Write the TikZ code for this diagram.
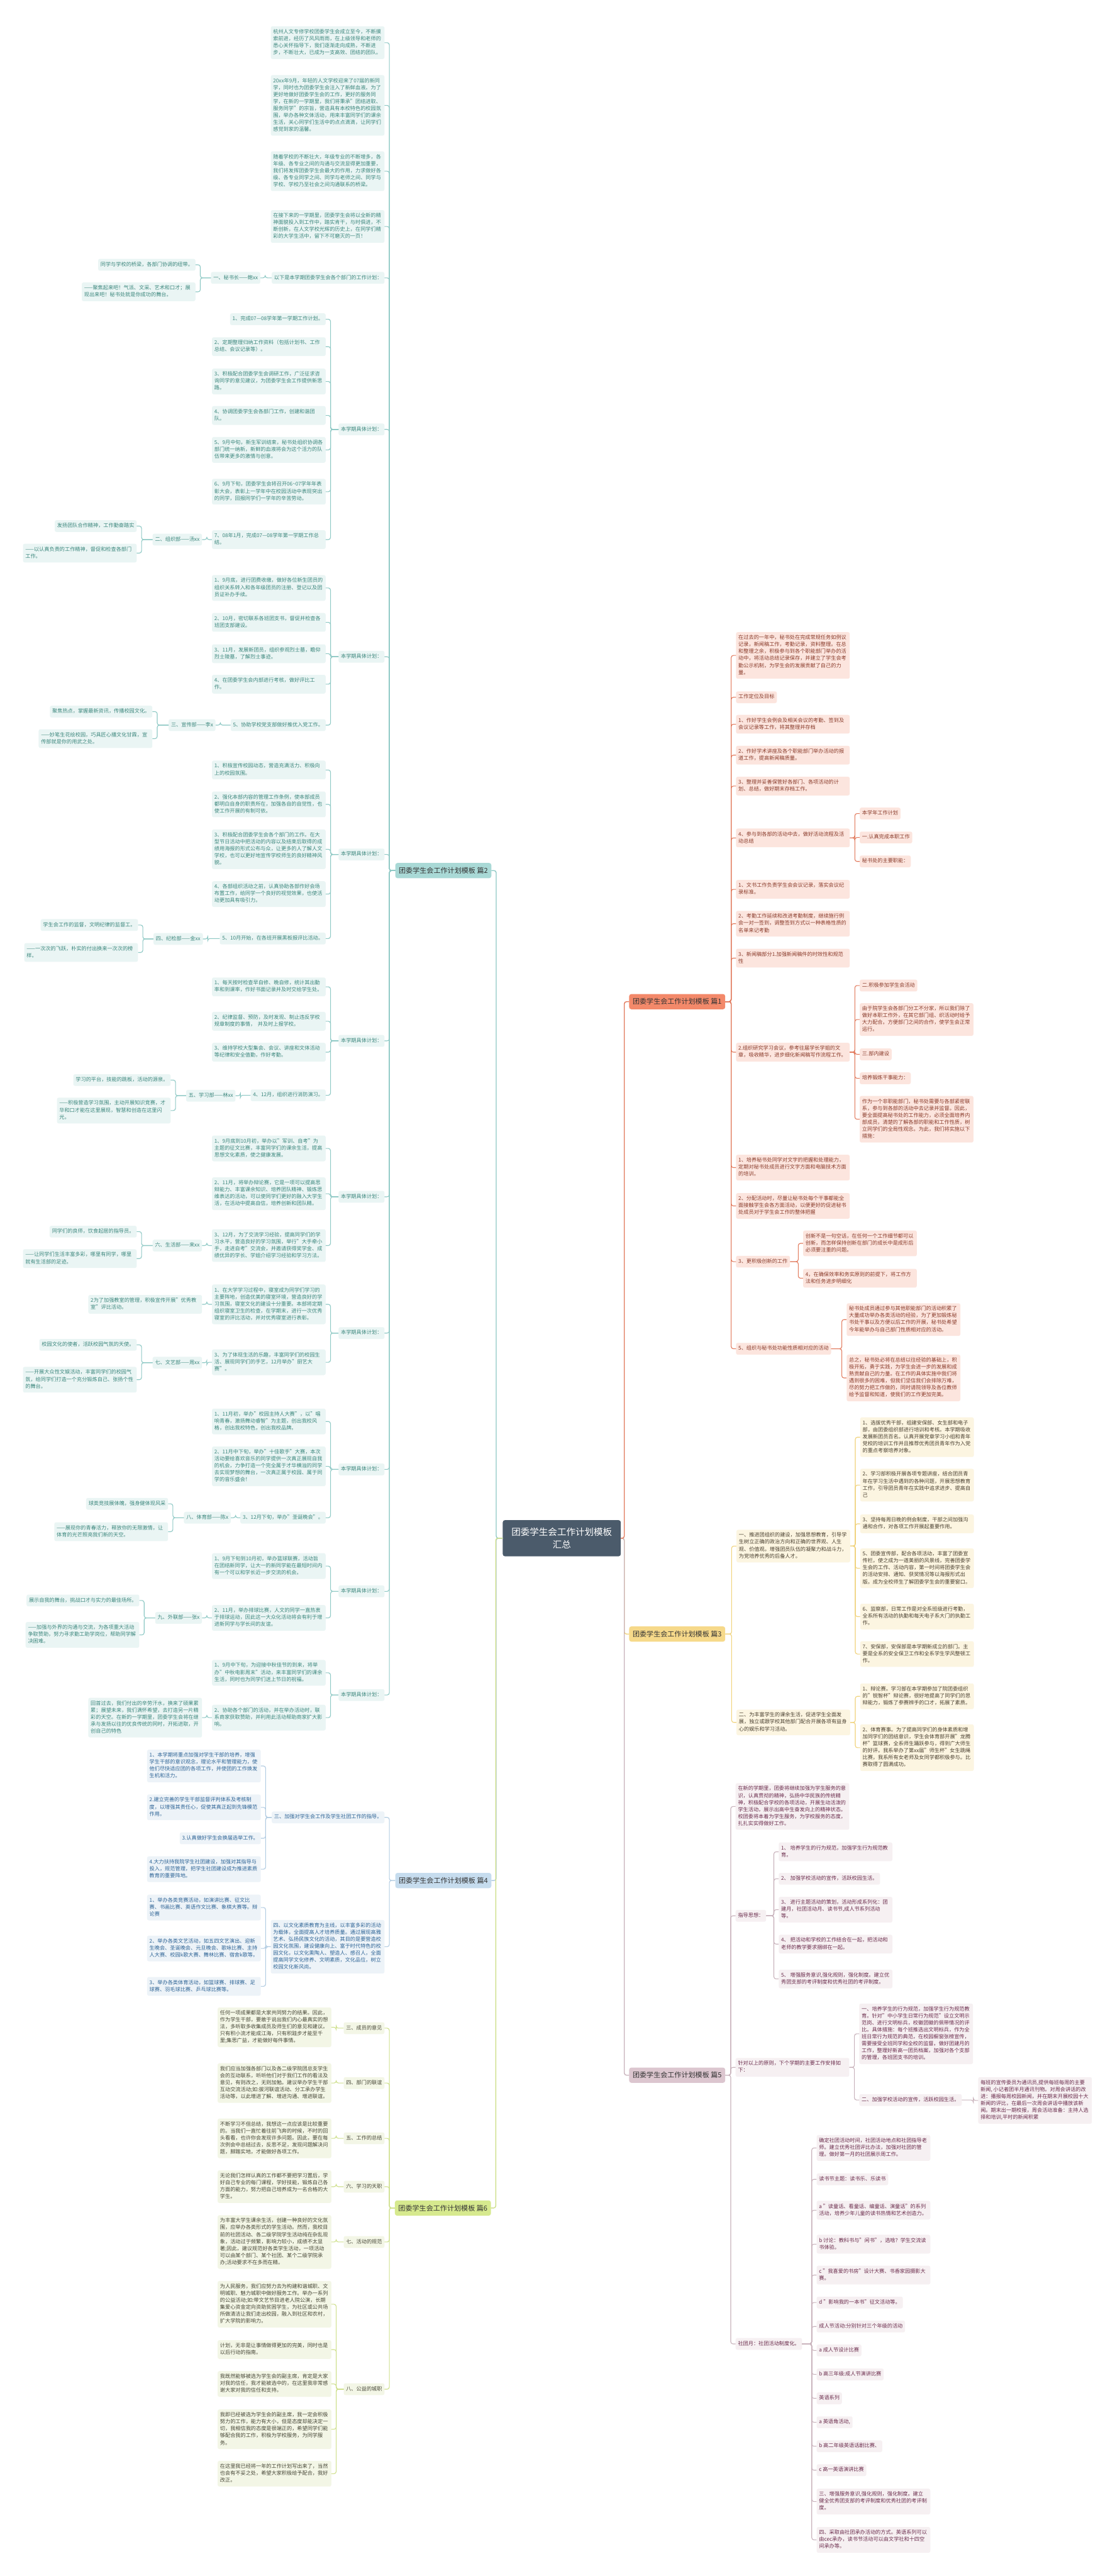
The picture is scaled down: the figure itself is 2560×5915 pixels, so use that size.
\documentclass[tikz,border=0pt]{standalone}
\usepackage{fontspec}
\setmainfont{Noto Sans CJK SC}
\XeTeXlinebreaklocale "zh"
\XeTeXlinebreakskip=0pt plus 1pt
\definecolor{l1}{HTML}{E27B5E}\definecolor{f1}{HTML}{FCE5DE}\definecolor{n1}{HTML}{F3896A}\definecolor{t1}{HTML}{8A3B2B}
\definecolor{l2}{HTML}{8EC9C5}\definecolor{f2}{HTML}{EAF5F4}\definecolor{n2}{HTML}{A9D9D6}\definecolor{t2}{HTML}{3C877D}
\definecolor{l3}{HTML}{F0D27A}\definecolor{f3}{HTML}{FCF5E1}\definecolor{n3}{HTML}{F6D98A}\definecolor{t3}{HTML}{4A4030}
\definecolor{l4}{HTML}{B2CCE2}\definecolor{f4}{HTML}{EDF3F8}\definecolor{n4}{HTML}{C6DCEE}\definecolor{t4}{HTML}{2E6496}
\definecolor{l5}{HTML}{C9B3BC}\definecolor{f5}{HTML}{F6F0F2}\definecolor{n5}{HTML}{DCC6CF}\definecolor{t5}{HTML}{6B2C4C}
\definecolor{l6}{HTML}{CFE08C}\definecolor{f6}{HTML}{F3F6E6}\definecolor{n6}{HTML}{D6E98E}\definecolor{t6}{HTML}{474737}
\definecolor{rootc}{HTML}{4B5B6B}
\newcommand\T[1]{\setbox0=\hbox{\strut#1}\ifdim\wd0>250pt\relax\parbox{250pt}{\raggedright\strut#1\strut}\else\box0\fi}
\newcommand\conL[3]{\draw[#1] (#2.west) -| ([xshift=11pt]#3.east) -- (#3.east);}
\newcommand\conR[3]{\draw[#1] (#2.east) -| ([xshift=-11pt]#3.west) -- (#3.west);}
\tikzset{
 base/.style={rounded corners=4pt, inner xsep=5.5pt, inner ysep=5.5pt, font=\fontsize{11.8}{16}\selectfont},
 L/.style={base, anchor=east},
 R/.style={base, anchor=west},
 k1/.style={fill=f1,text=t1}, k2/.style={fill=f2,text=t2}, k3/.style={fill=f3,text=t3},
 k4/.style={fill=f4,text=t4}, k5/.style={fill=f5,text=t5}, k6/.style={fill=f6,text=t6},
 ln1/.style={draw=l1,line width=1.6pt,rounded corners=5pt},
 ln2/.style={draw=l2,line width=1.6pt,rounded corners=5pt},
 ln3/.style={draw=l3,line width=1.6pt,rounded corners=5pt},
 ln4/.style={draw=l4,line width=1.6pt,rounded corners=5pt},
 ln5/.style={draw=l5,line width=1.6pt,rounded corners=5pt},
 ln6/.style={draw=l6,line width=1.6pt,rounded corners=5pt},
 topic/.style={rounded corners=5pt, inner xsep=8pt, minimum height=35pt, font=\fontsize{16}{19}\selectfont, text=black!80},
 rootbox/.style={fill=rootc, text=white, rounded corners=5pt, minimum width=271pt, minimum height=83pt, align=center, font=\fontsize{21}{28}\selectfont},
}
\begin{document}
\begin{tikzpicture}[x=1pt,y=-1pt]
\useasboundingbox (0,0) rectangle (2560,5915);
\fill[white] (0,0) rectangle (2560,5915);
% ---------------- root and topics
\node[rootbox] (root) at (1290,3532) {团委学生会工作计划模板\\汇总};
\node[topic,fill=n1] (p1) at (1555,2300) {团委学生会工作计划模板 篇1};
\node[topic,fill=n2] (p2) at (1018,1999) {团委学生会工作计划模板 篇2};
\node[topic,fill=n3] (p3) at (1555,3752) {团委学生会工作计划模板 篇3};
\node[topic,fill=n4] (p4) at (1018,4318) {团委学生会工作计划模板 篇4};
\node[topic,fill=n5] (p5) at (1555,4765) {团委学生会工作计划模板 篇5};
\node[topic,fill=n6] (p6) at (1017,5070) {团委学生会工作计划模板 篇6};
\conL{ln2,line width=2pt}{root}{p2}
\conL{ln4,line width=2pt}{root}{p4}
\conL{ln6,line width=2pt}{root}{p6}
\conR{ln3,line width=2pt}{root}{p3}
\conR{ln5,line width=2pt}{root}{p5}
\conR{ln1,line width=2pt}{root}{p1}
% ================= 篇2
\node[L,k2] (a1) at (883,98) {\T{杭州人文专修学校团委学生会成立至今，不断摸索前进，经历了风风雨雨，在上级领导和老师的悉心关怀指导下，我们逐渐走向成熟，不断进步，不断壮大，已成为一支高效、团结的团队。}};
\node[L,k2] (a2) at (883,242) {\T{20xx年9月，年轻的人文学校迎来了07届的新同学，同时也为团委学生会注入了新鲜血液。为了更好地做好团委学生会的工作，更好的服务同学，在新的一学期里，我们将秉承"团结进取、服务同学"的宗旨，营造具有本校特色的校园氛围，举办各种文体活动，用来丰富同学们的课余生活，关心同学们生活中的点点滴滴，让同学们感觉到家的温馨。}};
\node[L,k2] (a3) at (883,393) {\T{随着学校的不断壮大，年级专业的不断增多，各年级、各专业之间的沟通与交流显得更加重要，我们将发挥团委学生会最大的作用，力求做好各级、各专业同学之间、同学与老师之间、同学与学校、学校乃至社会之间沟通联系的桥梁。}};
\node[L,k2] (a4) at (883,520) {\T{在接下来的一学期里，团委学生会将以全新的精神面貌投入到工作中，踏实肯干，与时俱进，不断创新，在人文学校光辉的历史上，在同学们精彩的大学生活中，留下不可磨灭的一页！}};
\node[L,k2] (a5) at (883,638) {\T{以下是本学期团委学生会各个部门的工作计划：}};
\node[L,k2] (a6) at (883,986) {\T{本学期具体计划：}};
\node[L,k2] (a7) at (883,1508) {\T{本学期具体计划：}};
\node[L,k2] (a8) at (883,1962) {\T{本学期具体计划：}};
\node[L,k2] (a9) at (883,2390) {\T{本学期具体计划：}};
\node[L,k2] (a10) at (883,2748) {\T{本学期具体计划：}};
\node[L,k2] (a11) at (883,3061) {\T{本学期具体计划：}};
\node[L,k2] (a12) at (883,3374) {\T{本学期具体计划：}};
\node[L,k2] (a13) at (883,3654) {\T{本学期具体计划：}};
\node[L,k2] (a14) at (883,3892) {\T{本学期具体计划：}};
\foreach \c in {a1,a2,a3,a4,a5,a6,a7,a8,a9,a10,a11,a12,a13,a14} {\conL{ln2}{p2}{\c}}
% 秘书长
\node[L,k2] (s1) at (598,638) {\T{一、秘书长——鲍xx}};
\node[L,k2] (s1a) at (449,608) {\T{同学与学校的桥梁，各部门协调的纽带。}};
\node[L,k2] (s1b) at (449,670) {\T{——聚焦起来吧！气派、文采、艺术和口才；展现出来吧！秘书处就是你成功的舞台。}};
\conL{ln2}{a5}{s1}\conL{ln2}{s1}{s1a}\conL{ln2}{s1}{s1b}
% a6 children
\node[L,k2] (b61) at (748,733) {\T{1、完成07—08学年第一学期工作计划。}};
\node[L,k2] (b62) at (748,796) {\T{2、定期整理归纳工作资料（包括计划书、工作总结、会议记录等）。}};
\node[L,k2] (b63) at (748,876) {\T{3、积极配合团委学生会调研工作，广泛征求咨询同学的意见建议，为团委学生会工作提供新思路。}};
\node[L,k2] (b64) at (748,954) {\T{4、协调团委学生会各部门工作，创建和谐团队。}};
\node[L,k2] (b65) at (748,1033) {\T{5、9月中旬，新生军训结束，秘书处组织协调各部门统一纳新，新鲜的血液将会为这个活力的队伍带来更多的激情与创意。}};
\node[L,k2] (b66) at (748,1129) {\T{6、9月下旬，团委学生会将召开06\textasciitilde 07学年年表彰大会，表彰上一学年中在校园活动中表现突出的同学，回报同学们一学年的辛苦劳动。}};
\node[L,k2] (b67) at (748,1239) {\T{7、08年1月，完成07—08学年第一学期工作总结。}};
\foreach \c in {b61,b62,b63,b64,b65,b66,b67} {\conL{ln2}{a6}{\c}}
\node[L,k2] (d2) at (464,1239) {\T{二、组织部——汤xx}};
\node[L,k2] (d2a) at (314,1208) {\T{发扬团队合作精神，工作勤奋踏实}};
\node[L,k2] (d2b) at (314,1270) {\T{——以认真负责的工作精神，督促和检查各部门工作。}};
\conL{ln2}{b67}{d2}\conL{ln2}{d2}{d2a}\conL{ln2}{d2}{d2b}
% a7 children
\node[L,k2] (b71) at (748,1350) {\T{1、9月底，进行团费收缴，做好各位新生团员的组织关系转入和各年级团员的注册、登记以及团员证补办手续。}};
\node[L,k2] (b72) at (748,1429) {\T{2、10月，密切联系各班团支书，督促并检查各班团支部建设。}};
\node[L,k2] (b73) at (748,1501) {\T{3、11月，发展新团员，组织参观烈士墓，瞻仰烈士陵墓，了解烈士事迹。}};
\node[L,k2] (b74) at (748,1571) {\T{4、在团委学生会内部进行考核，做好评比工作。}};
\node[L,k2] (b75) at (748,1665) {\T{5、协助学校党支部做好推优入党工作。}};
\foreach \c in {b71,b72,b73,b74,b75} {\conL{ln2}{a7}{\c}}
\node[L,k2] (d3) at (495,1665) {\T{三、宣传部——李x}};
\node[L,k2] (d3a) at (350,1634) {\T{聚焦热点，掌握最新资讯，传播校园文化。}};
\node[L,k2] (d3b) at (350,1696) {\T{——妙笔生花绘校园，巧具匠心播文化甘霖，宣传部就是你的用武之处。}};
\conL{ln2}{b75}{d3}\conL{ln2}{d3}{d3a}\conL{ln2}{d3}{d3b}
% a8 children
\node[L,k2] (b81) at (748,1768) {\T{1、积极宣传校园动态，营造充满活力、积极向上的校园氛围。}};
\node[L,k2] (b82) at (748,1847) {\T{2、强化本部内容的管理工作条例，使本部成员都明白自身的职责所在，加强各自的自觉性，也使工作开展的有制可依。}};
\node[L,k2] (b83) at (748,1950) {\T{3、积极配合团委学生会各个部门的工作。在大型节日活动中把活动的内容以及结束后取得的成绩用海报的形式公布与众，让更多的人了解人文学校，也可以更好地宣传学校师生的良好精神风貌。}};
\node[L,k2] (b84) at (748,2053) {\T{4、各部组织活动之前，认真协助各部作好会场布置工作，给同学一个良好的视觉效果，也使活动更加具有吸引力。}};
\node[L,k2] (b85) at (748,2155) {\T{5、10月开始，在各班开展黑板报评比活动。}};
\foreach \c in {b81,b82,b83,b84,b85} {\conL{ln2}{a8}{\c}}
\node[L,k2] (d4) at (466,2156) {\T{四、纪检部——金xx}};
\node[L,k2] (d4a) at (317,2124) {\T{学生会工作的监督，文明纪律的监督工。}};
\node[L,k2] (d4b) at (317,2187) {\T{——一次次的飞跃，朴实的付出换来一次次的榜样。}};
\conL{ln2}{b85}{d4}\conL{ln2}{d4}{d4a}\conL{ln2}{d4}{d4b}
% a9 children
\node[L,k2] (b91) at (748,2266) {\T{1、每天按时检查早自修、晚自修，统计其出勤率和到课率，作好书面记录并及时交给学生处。}};
\node[L,k2] (b92) at (748,2345) {\T{2、纪律监督、预防，及时发现、制止违反学校规章制度的事情，\ \ 并及时上报学校。}};
\node[L,k2] (b93) at (748,2416) {\T{3、维持学校大型集会、会议、讲座和文体活动等纪律和安全值勤，作好考勤。}};
\node[L,k2] (b94) at (748,2515) {\T{4、12月，组织进行消防演习。}};
\foreach \c in {b91,b92,b93,b94} {\conL{ln2}{a9}{\c}}
\node[L,k2] (d5) at (541,2516) {\T{五、学习部——林xx}};
\node[L,k2] (d5a) at (392,2480) {\T{学习的平台，技能的跳板，活动的源泉。}};
\node[L,k2] (d5b) at (392,2550) {\T{——积极营造学习氛围，主动开展知识竞赛，才华和口才能在这里展现，智慧和创造在这里闪光。}};
\conL{ln2}{b94}{d5}\conL{ln2}{d5}{d5a}\conL{ln2}{d5}{d5b}
% a10 children
\node[L,k2] (b101) at (748,2637) {\T{1、9月底到10月初，举办以"军训、自考"为主题的征文比赛，丰富同学们的课余生活，提高思想文化素质，使之健康发展。}};
\node[L,k2] (b102) at (748,2741) {\T{2、11月，将举办辩论赛，它是一项可以提高思辩能力、丰富课余知识、培养团队精神、锻炼思维表达的活动，可以使同学们更好的融入大学生活，在活动中提高自信，培养创新和团队精。}};
\node[L,k2] (b103) at (748,2860) {\T{3、12月，为了交流学习经验，提高同学们的学习水平，营造良好的学习氛围，举行"大手牵小手，走进自考"交流会，并邀请获得奖学金、成绩优异的学长、学姐介绍学习经验和学习方法。}};
\foreach \c in {b101,b102,b103} {\conL{ln2}{a10}{\c}}
\node[L,k2] (d6) at (464,2860) {\T{六、生活部——来xx}};
\node[L,k2] (d6a) at (314,2828) {\T{同学们的良师，饮食起居的指导员。}};
\node[L,k2] (d6b) at (314,2890) {\T{——让同学们生活丰富多彩，哪里有同学，哪里就有生活部的足迹。}};
\conL{ln2}{b103}{d6}\conL{ln2}{d6}{d6a}\conL{ln2}{d6}{d6b}
% a11 children
\node[L,k2] (b111) at (748,2995) {\T{1、在大学学习过程中，寝室成为同学们学习的主要阵地，创造优美的寝室环境，营造良好的学习氛围，寝室文化的建设十分重要。本部将定期组织寝室卫生的检查，在学期末，进行一次优秀寝室的评比活动，并对优秀寝室进行表彰。}};
\node[L,k2] (b112) at (748,3128) {\T{3、为了体现生活的乐趣，丰富同学们的校园生活、展现同学们的手艺，12月举办"厨艺大赛"。}};
\foreach \c in {b111,b112} {\conL{ln2}{a11}{\c}}
\node[L,k2] (b111c) at (464,2995) {\T{2为了加强教室的管理，积极宣传开展"优秀教室"评比活动。}};
\conL{ln2}{b111}{b111c}
\node[L,k2] (d7) at (464,3129) {\T{七、文艺部——周xx}};
\node[L,k2] (d7a) at (314,3088) {\T{校园文化的使者，活跃校园气氛的天使。}};
\node[L,k2] (d7b) at (314,3168) {\T{——开展大众性文娱活动，丰富同学们的校园气氛，给同学们打造一个充分锻炼自己、张扬个性的舞台。}};
\conL{ln2}{b112}{d7}\conL{ln2}{d7}{d7a}\conL{ln2}{d7}{d7b}
% a12 children
\node[L,k2] (b121) at (748,3264) {\T{1、11月初，举办"校园主持人大赛"，以"唱响青春，激扬舞动睿智"为主题，创出我校风格，创出我校特色，创出我校品牌。}};
\node[L,k2] (b122) at (748,3367) {\T{2、11月中下旬，举办"十佳歌手"大赛，本次活动要给喜欢音乐的同学提供一次真正展现自我的机会，力争打造一个完全属于才华横溢的同学去实现梦想的舞台，一次真正属于校园、属于同学的音乐盛会！}};
\node[L,k2] (b123) at (748,3485) {\T{3、12月下旬，举办"圣诞晚会"。}};
\foreach \c in {b121,b122,b123} {\conL{ln2}{a12}{\c}}
\node[L,k2] (d8) at (530,3485) {\T{八、体育部——陈x}};
\node[L,k2] (d8a) at (386,3453) {\T{球类竞技展体魄，强身健体现风采}};
\node[L,k2] (d8b) at (386,3517) {\T{——展现你的青春活力，释放你的无限激情，让体育的光芒照亮我们新的天空。}};
\conL{ln2}{b123}{d8}\conL{ln2}{d8}{d8a}\conL{ln2}{d8}{d8b}
% a13 children
\node[L,k2] (b131) at (748,3596) {\T{1、9月下旬到10月初，举办篮球联赛，活动旨在团结新同学，让大一的新同学能在最短时间内有一个可以和学长近一步交流的机会。}};
\node[L,k2] (b132) at (748,3715) {\T{2、11月，举办排球比赛，人文的同学一直热衷于排球运动，因此这一大众化活动将会有利于增进新同学与学长间的友谊。}};
\foreach \c in {b131,b132} {\conL{ln2}{a13}{\c}}
\node[L,k2] (d9) at (464,3715) {\T{九、外联部——张x}};
\node[L,k2] (d9a) at (320,3675) {\T{展示自我的舞台，挑战口才与实力的最佳场所。}};
\node[L,k2] (d9b) at (320,3754) {\T{——加强与外界的沟通与交流，为各项重大活动争取赞助，努力寻求勤工助学岗位，帮助同学解决困难。}};
\conL{ln2}{b132}{d9}\conL{ln2}{d9}{d9a}\conL{ln2}{d9}{d9b}
% a14 children
\node[L,k2] (b141) at (748,3841) {\T{1、9月中下旬，为迎接中秋佳节的到来，将举办"中秋电影周末"活动，来丰富同学们的课余生活，同时也为同学们送上节日的祝福。}};
\node[L,k2] (b142) at (748,3944) {\T{2、协助各个部门的活动，并在举办活动时，联系商家获取赞助，并利用此活动帮助商家扩大影响。}};
\foreach \c in {b141,b142} {\conL{ln2}{a14}{\c}}
\node[L,k2] (b142c) at (464,3944) {\T{回首过去，我们付出的辛劳汗水，换来了硕果累累；展望未来，我们满怀希望，去打造另一片精彩的天空。在新的一学期里，团委学生会将在继承与发扬以往的优良传统的同时，开拓进取，开创自己的特色}};
\conL{ln2}{b142}{b142c}
% ================= 篇4
\node[L,k4] (c1) at (883,4173) {\T{三、加强对学生会工作及学生社团工作的指导。}};
\node[L,k4] (c2) at (883,4470) {\T{四、以文化素质教育为主线，以丰富多彩的活动为载体，全面提高人才培养质量。通过展现高雅艺术、弘扬民族文化的活动，其目的是要营造校园文化氛围，建设健康向上、富于时代特色的校园文化，以文化熏陶人、塑造人、感召人，全面提高同学文化修养、文明素质，文化品位，树立校园文化新风尚。}};
\conL{ln4}{p4}{c1}\conL{ln4}{p4}{c2}
\node[L,k4] (c11) at (599,4055) {\T{1、本学期将重点加强对学生干部的培养，增强学生干部的意识观念，理论水平和管理能力，使他们尽快适应团的各项工作，并使团的工作焕发生机和活力。}};
\node[L,k4] (c12) at (599,4150) {\T{2.建立完善的学生干部监督评判体系及考核制度，以增强其责任心，促使其真正起到先锋模范作用。}};
\node[L,k4] (c13) at (599,4221) {\T{3.认真做好学生会换届选举工作。}};
\node[L,k4] (c14) at (599,4292) {\T{4.大力扶持我院学生社团建设，加强对其指导与投入，规范管理，把学生社团建设成为推进素质教育的重要阵地。}};
\foreach \c in {c11,c12,c13,c14} {\conL{ln4}{c1}{\c}}
\node[L,k4] (c21) at (599,4380) {\T{1、举办各类竞赛活动，如演讲比赛、征文比赛、书画比赛、英语作文比赛、象棋大赛等。辩论赛}};
\node[L,k4] (c22) at (599,4474) {\T{2、举办各类文艺活动，如五四文艺演出、迎新生晚会、圣诞晚会、元旦晚会、歌咏比赛、主持人大赛、校园k歌大赛、舞林比赛、宿舍k歌等。}};
\node[L,k4] (c23) at (599,4561) {\T{3、举办各类体育活动，如篮球赛、排球赛、足球赛、羽毛球比赛、乒乓球比赛等。}};
\foreach \c in {c21,c22,c23} {\conL{ln4}{c2}{\c}}
% ================= 篇6
\node[L,k6] (g3) at (883,4657) {\T{三、成员的意见}};
\node[L,k6] (g4) at (883,4783) {\T{四、部门的联谊}};
\node[L,k6] (g5) at (883,4910) {\T{五、工作的总结}};
\node[L,k6] (g6) at (883,5021) {\T{六、学习的天职}};
\node[L,k6] (g7) at (883,5148) {\T{七、活动的规范}};
\node[L,k6] (g8) at (883,5486) {\T{八、公益的城职}};
\foreach \c in {g3,g4,g5,g6,g7,g8} {\conL{ln6}{p6}{\c}}
\node[L,k6] (g3a) at (761,4655) {\T{任何一项成果都是大家共同努力的结果。因此，作为学生干部，要敢于说出我们内心最真实的想法，多听取多收集成员及师生们的意见和建议。只有积小流才能成江海，只有积跬步才能至千里;集思广益，才能做好每件事情。}};
\node[L,k6] (g4a) at (761,4783) {\T{我们应当加强各部门以及各二级学院团总支学生会的互动联系，听听他们对于我们工作的看法及意见，有则改之，无则加勉。建议举办学生干部互动交流活动;如:拔河联谊活动、分工承办学生活动等，以此增进了解、增进沟通、增进联谊。}};
\node[L,k6] (g5a) at (761,4910) {\T{不断学习不但总结，我想这一点应该是比较重要的。当我们一直忙着往前飞奔的时候，不时的回头看看，也许你会发现许多问题。因此，要在每次例会中总结过去，反思不足，发现问题解决问题，脚踏实地，才能做好各项工作。}};
\node[L,k6] (g6a) at (761,5021) {\T{无论我们怎样认真的工作都不要把学习置后，学好自己专业的每门课程，学好技能，锻炼自己各方面的能力，努力把自己培养成为一名合格的大学生。}};
\node[L,k6] (g7a) at (761,5148) {\T{为丰富大学生课余生活，创建一种良好的文化氛围，应举办各类形式的学生活动。然而，我校目前的社团活动、各二级学院学生活动纯在杂乱现象，活动过于频繁，影响力较小，成绩不太显著;因此，建议规范好各类学生活动，一项活动可以由某个部门、某个社团、某个二级学院承办;活动要求不在多而在精。}};
\conL{ln6}{g3}{g3a}\conL{ln6}{g4}{g4a}\conL{ln6}{g5}{g5a}\conL{ln6}{g6}{g6a}\conL{ln6}{g7}{g7a}
\node[L,k6] (g81) at (761,5291) {\T{为人民服务，我们应努力去为构建和谐城职、文明城职、魅力城职中做好服务工作。举办一系列的公益活动;如:带文艺节目进老人院公演，长期集爱心资金定向资助贫困学生，为社区或公共场所做清洁让我们走出校园，融入到社区和农村，扩大学院的影响力。}};
\node[L,k6] (g82) at (761,5395) {\T{计划，无非是让事情做得更加的完美，同时也是以后行动的指南。}};
\node[L,k6] (g83) at (761,5474) {\T{我既然能够被选为学生会的副主席，肯定是大家对我的信任，我才能被选中的，在这里我非常感谢大家对我的信任和支持。}};
\node[L,k6] (g84) at (761,5578) {\T{我即已经被选为学生会的副主席，我一定会积极努力的工作，能力有大小，但是态度却能决定一切，我相信我的态度是很端正的，希望同学们能够配合我的工作，积极为学校服务，为同学服务。}};
\node[L,k6] (g85) at (761,5680) {\T{在这里我已经将一年的工作计划写出来了，当然也会有不妥之处，希望大家积极给予配合，我好改正。}};
\foreach \c in {g81,g82,g83,g84,g85} {\conL{ln6}{g8}{\c}}
% ================= 篇1
\node[R,k1] (e1) at (1690,1505) {\T{在过去的一年中，秘书处在完成常规任务如例议记录，新闻稿工作，考勤记录，资料整理。在总和整理之余，积极参与到各个职能部门举办的活动中，将活动总结记录保存，并建立了学生会考勤公示机制，为学生会的发展贡献了自己的力量。}};
\node[R,k1] (e2) at (1690,1601) {\T{工作定位及目标}};
\node[R,k1] (e3) at (1690,1663) {\T{1、作好学生会例会及相关会议的考勤、签到及会议记录等工作，将其整理并存档}};
\node[R,k1] (e4) at (1690,1734) {\T{2、作好学术讲座及各个职能部门举办活动的报道工作，提高新闻稿质量。}};
\node[R,k1] (e5) at (1690,1805) {\T{3、整理并妥善保管好各部门、各项活动的计划、总结，做好期末存档工作。}};
\node[R,k1] (e6) at (1690,1924) {\T{4、参与到各部的活动中去，做好活动流程及活动总结}};
\node[R,k1] (e7) at (1690,2042) {\T{1、文书工作负责学生会会议记录，落实会议纪录标准。}};
\node[R,k1] (e8) at (1690,2121) {\T{2、考勤工作延续和改进考勤制度，继续施行例会一对一签到，调整签到方式以一种表格性质的名单来记考勤}};
\node[R,k1] (e9) at (1690,2200) {\T{3、新闻稿部分1.加强新闻稿件的时效性和规范性}};
\node[R,k1] (e10) at (1690,2416) {\T{2.组织研究学习会议，参考往届学长学姐的文章，吸收精华，进步细化新闻稿写作流程工作。}};
\node[R,k1] (e11) at (1690,2681) {\T{1、培养秘书处同学对文字的把握和处理能力，定期对秘书处成员进行文字方面和电脑技术方面的培训。}};
\node[R,k1] (e12) at (1690,2769) {\T{2、分配活动时，尽量让秘书处每个干事都能全面接触学生会各方面活动，以便更好的促进秘书处成员对于学生会工作的整体把握}};
\node[R,k1] (e13) at (1690,2897) {\T{3、更积极创新的工作}};
\node[R,k1] (e14) at (1690,3097) {\T{5、组织与秘书处功能性质相对应的活动}};
\foreach \c in {e1,e2,e3,e4,e5,e6,e7,e8,e9,e10,e11,e12,e13,e14} {\conR{ln1}{p1}{\c}}
\node[R,k1] (e6a) at (1974,1868) {\T{本学年工作计划}};
\node[R,k1] (e6b) at (1974,1923) {\T{一.认真完成本职工作}};
\node[R,k1] (e6c) at (1974,1978) {\T{秘书处的主要职能：}};
\foreach \c in {e6a,e6b,e6c} {\conR{ln1}{e6}{\c}}
\node[R,k1] (e10a) at (1974,2263) {\T{二.积极参加学生会活动}};
\node[R,k1] (e10b) at (1974,2341) {\T{由于院学生会各部门分工不分家，所以我们除了做好本职工作外，在其它部门组、织活动时给予大力配合。方便部门之间的合作，使学生会正常运行。}};
\node[R,k1] (e10c) at (1974,2421) {\T{三.部内建设}};
\node[R,k1] (e10d) at (1974,2476) {\T{培养锻炼干事能力：}};
\node[R,k1] (e10e) at (1974,2570) {\T{作为一个非职能部门，秘书处需要与各部紧密联系，参与到各部的活动中去记录并监督。因此，要全面提高秘书处的工作能力，必须全面培养内部成员，清楚的了解各部的职能和工作性质，树立同学们的全局性观念。为此，我们将实施以下措施：}};
\foreach \c in {e10a,e10b,e10c,e10d,e10e} {\conR{ln1}{e10}{\c}}
\node[R,k1] (e13a) at (1844,2855) {\T{创新不是一句空话，在任何一个工作细节都可以创新，而怎样保持创新在部门的成长中是成形后必须要注重的问题。}};
\node[R,k1] (e13b) at (1844,2935) {\T{4，在确保效率和务实原则的前提下，将工作方法和任务进步明细化}};
\conR{ln1}{e13}{e13a}\conR{ln1}{e13}{e13b}
\node[R,k1] (e14a) at (1944,3030) {\T{秘书处成员通过参与其他职能部门的活动积累了大量成功举办各类活动的经验，为了更加锻炼秘书处干事以及方便以后工作的开展，秘书处希望今年能举办与自己部门性质相对应的活动。}};
\node[R,k1] (e14b) at (1944,3164) {\T{总之，秘书处必将在总结以往经验的基础上，积极开拓，勇于实践，为学生会进一步的发展和成熟贡献自己的力量。在工作的具体实施中我们将遇到很多的困难，但我们坚信我们会排除万难，尽的努力把工作做的，同时请院领导及各位教师给予监督和知道，使我们的工作更加完美。}};
\conR{ln1}{e14}{e14a}\conR{ln1}{e14}{e14b}
% ================= 篇3
\node[R,k3] (f1) at (1691,3550) {\T{一、推进团组织的建设，加强思想教育，引导学生树立正确的政治方向和正确的世界观、人生观、价值观。增强团员队伍的凝聚力和战斗力，为党培养优秀的后备人才。}};
\node[R,k3] (f2) at (1691,3955) {\T{二、为丰富学生的课余生活，促进学生全面发展，独立或跟学校其他部门配合开展各项有益身心的娱乐和学习活动。}};
\conR{ln3}{p3}{f1}\conR{ln3}{p3}{f2}
\node[R,k3] (f11) at (1975,3300) {\T{1、选拔优秀干部，组建安保部、女生部和电子部，由团委组织部进行培训和考核。本学期吸收发展新团员百名。认真开展党章学习小组和青年党校的培训工作并且推荐优秀团员青年作为入党的重点考察培养对象。}};
\node[R,k3] (f12) at (1975,3410) {\T{2、学习部积极开展各项专题讲座，结合团员青年在学习生活中遇到的各种问题，开展思想教育工作，引导团员青年在实践中追求进步、提高自己}};
\node[R,k3] (f13) at (1975,3499) {\T{3、坚持每周日晚的例会制度，干部之间加强沟通和合作，对各项工作开展起重要作用。}};
\node[R,k3] (f14) at (1975,3601) {\T{5、团委宣传部，配合各项活动，丰富了团委宣传栏，使之成为一道美丽的风景线，完善团委学生会的工作、活动内容，第一时间将团委学生会的活动安排、通知、获奖情况等以海报形式出版。成为全校师生了解团委学生会的重要窗口。}};
\node[R,k3] (f15) at (1975,3712) {\T{6、监察部，日常工作是对全系班级进行考勤，全系所有活动的执勤和每天电子系大门的执勤工作。}};
\node[R,k3] (f16) at (1975,3798) {\T{7、安保部，安保部是本学期新成立的部门。主要是全系的安全保卫工作和全系学生学风整顿工作。}};
\foreach \c in {f11,f12,f13,f14,f15,f16} {\conR{ln3}{f1}{\c}}
\node[R,k3] (f21) at (1975,3895) {\T{1、辩论赛。学习部在本学期参加了院团委组织的"锐智杯"辩论赛，很好地提高了同学们的思辩能力，锻炼了参赛辨手的口才，拓展了素质。}};
\node[R,k3] (f22) at (1975,4013) {\T{2、体育赛事。为了提高同学们的身体素质和增加同学们的团结意识，学生会体育部开展"龙腾杯"篮球赛，全系师生踊跃参与，得到广大师生的好评。我系举办了第xx届"师生杯"女生跳绳比赛，我系所有女老师及女同学都积极参与。比赛取得了圆满成功。}};
\conR{ln3}{f2}{f21}\conR{ln3}{f2}{f22}
% ================= 篇5
\node[R,k5] (h1) at (1689,4148) {\T{在新的学期里，团委将继续加强为学生服务的意识，认真贯彻的精神，弘扬中华民族的传统精神，积极配合学校的各项活动，开展生动活泼的学生活动，展示出高中生奋发向上的精神状态。校团委将本着为学生服务，为学校服务的态度，扎扎实实得做好工作。}};
\node[R,k5] (h2) at (1689,4399) {\T{指导思想：}};
\node[R,k5] (h3) at (1689,4747) {\T{针对以上的原则，下个学期的主要工作安排如下：}};
\node[R,k5] (h4) at (1689,5382) {\T{社团月：社团活动制度化。}};
\foreach \c in {h1,h2,h3,h4} {\conR{ln5}{p5}{\c}}
\node[R,k5] (h21) at (1788,4252) {\T{1、 培养学生的行为规范，加强学生行为规范教育。}};
\node[R,k5] (h22) at (1788,4314) {\T{2、 加强学校活动的宣传，活跃校园生活。}};
\node[R,k5] (h23) at (1788,4385) {\T{3、 进行主题活动的策划，活动形成系列化：团建月，社团活动月、读书节,成人节系列活动等。}};
\node[R,k5] (h24) at (1788,4464) {\T{4、 把活动和学校的工作结合在一起，把活动和老师的教学要求捆绑在一起。}};
\node[R,k5] (h25) at (1788,4544) {\T{5、 增强服务意识,强化规则，强化制度。建立优秀团支部的考评制度和优秀社团的考评制度。}};
\foreach \c in {h21,h22,h23,h24,h25} {\conR{ln5}{h2}{\c}}
\node[R,k5] (h31) at (1973,4670) {\T{一、培养学生的行为规范，加强学生行为规范教育。针对"中小学生日常行为规范"设立文明示范岗、进行文明标兵，校徽团徽的佩带情况的评比。具体措施：每个班推选出文明标兵，作为全班日常行为规范的典范，在校园橱窗张榜宣传，需要接受全班同学和全校的监督。做好团建月的工作，整理好新高一团员档案，加强对各个支部的管理，各班团支书的培训。}};
\node[R,k5] (h32) at (1973,4822) {\T{二、加强学校活动的宣传，活跃校园生活。}};
\conR{ln5}{h3}{h31}\conR{ln5}{h3}{h32}
\node[R,k5] (h32a) at (2246,4823) {\T{每班的宣传委员为通讯员,提供每班每周的主要新闻, 小记者团半月通讯刊物。对周会讲话的改进：播报每周校园新闻，并在期末开展校园十大新闻的评比，在最后一次周会讲话中播放该新闻。期末出一期校报，周会活动准备：主持人选择和培训,平时的新闻积累}};
\conR{ln5}{h32}{h32a}
\node[R,k5] (h401) at (1875,4932) {\T{确定社团活动时间，社团活动地点和社团指导老师。建立优秀社团评比办法，加强对社团的管理。做好第一月的社团展示周工作。}};
\node[R,k5] (h402) at (1875,5004) {\T{读书节主题：读书乐、乐读书}};
\node[R,k5] (h403) at (1875,5075) {\T{a "读童话、看童话、编童话、演童话"的系列活动，培养少年儿童的读书热情和艺术创造力。}};
\node[R,k5] (h404) at (1875,5153) {\T{b 讨论：教科书与"闲书"，选啥？学生交流读书体验。}};
\node[R,k5] (h405) at (1875,5224) {\T{c "我喜爱的书房"设计大赛、书香家园摄影大赛。}};
\node[R,k5] (h406) at (1875,5287) {\T{d "影响我的一本书"征文活动等。}};
\node[R,k5] (h407) at (1875,5342) {\T{成人节活动:分别针对三个年级的活动}};
\node[R,k5] (h408) at (1875,5397) {\T{a 成人节设计比赛}};
\node[R,k5] (h409) at (1875,5452) {\T{b 高三年级:成人节演讲比赛}};
\node[R,k5] (h410) at (1875,5507) {\T{英语系列}};
\node[R,k5] (h411) at (1875,5562) {\T{a 英语角活动,}};
\node[R,k5] (h412) at (1875,5617) {\T{b 高二年级英语话剧比赛、}};
\node[R,k5] (h413) at (1875,5672) {\T{c 高一英语演讲比赛}};
\node[R,k5] (h414) at (1875,5744) {\T{三、增强服务意识,强化规则，强化制度。建立健全优秀团支部的考评制度和优秀社团的考评制度。}};
\node[R,k5] (h415) at (1875,5832) {\T{四、采取由社团承办活动的方式。英语系列可以由cec承办，读书节活动可以由文学社和十四空间承办等。}};
\foreach \c in {h401,h402,h403,h404,h405,h406,h407,h408,h409,h410,h411,h412,h413,h414,h415} {\conR{ln5}{h4}{\c}}
\end{tikzpicture}
\end{document}
